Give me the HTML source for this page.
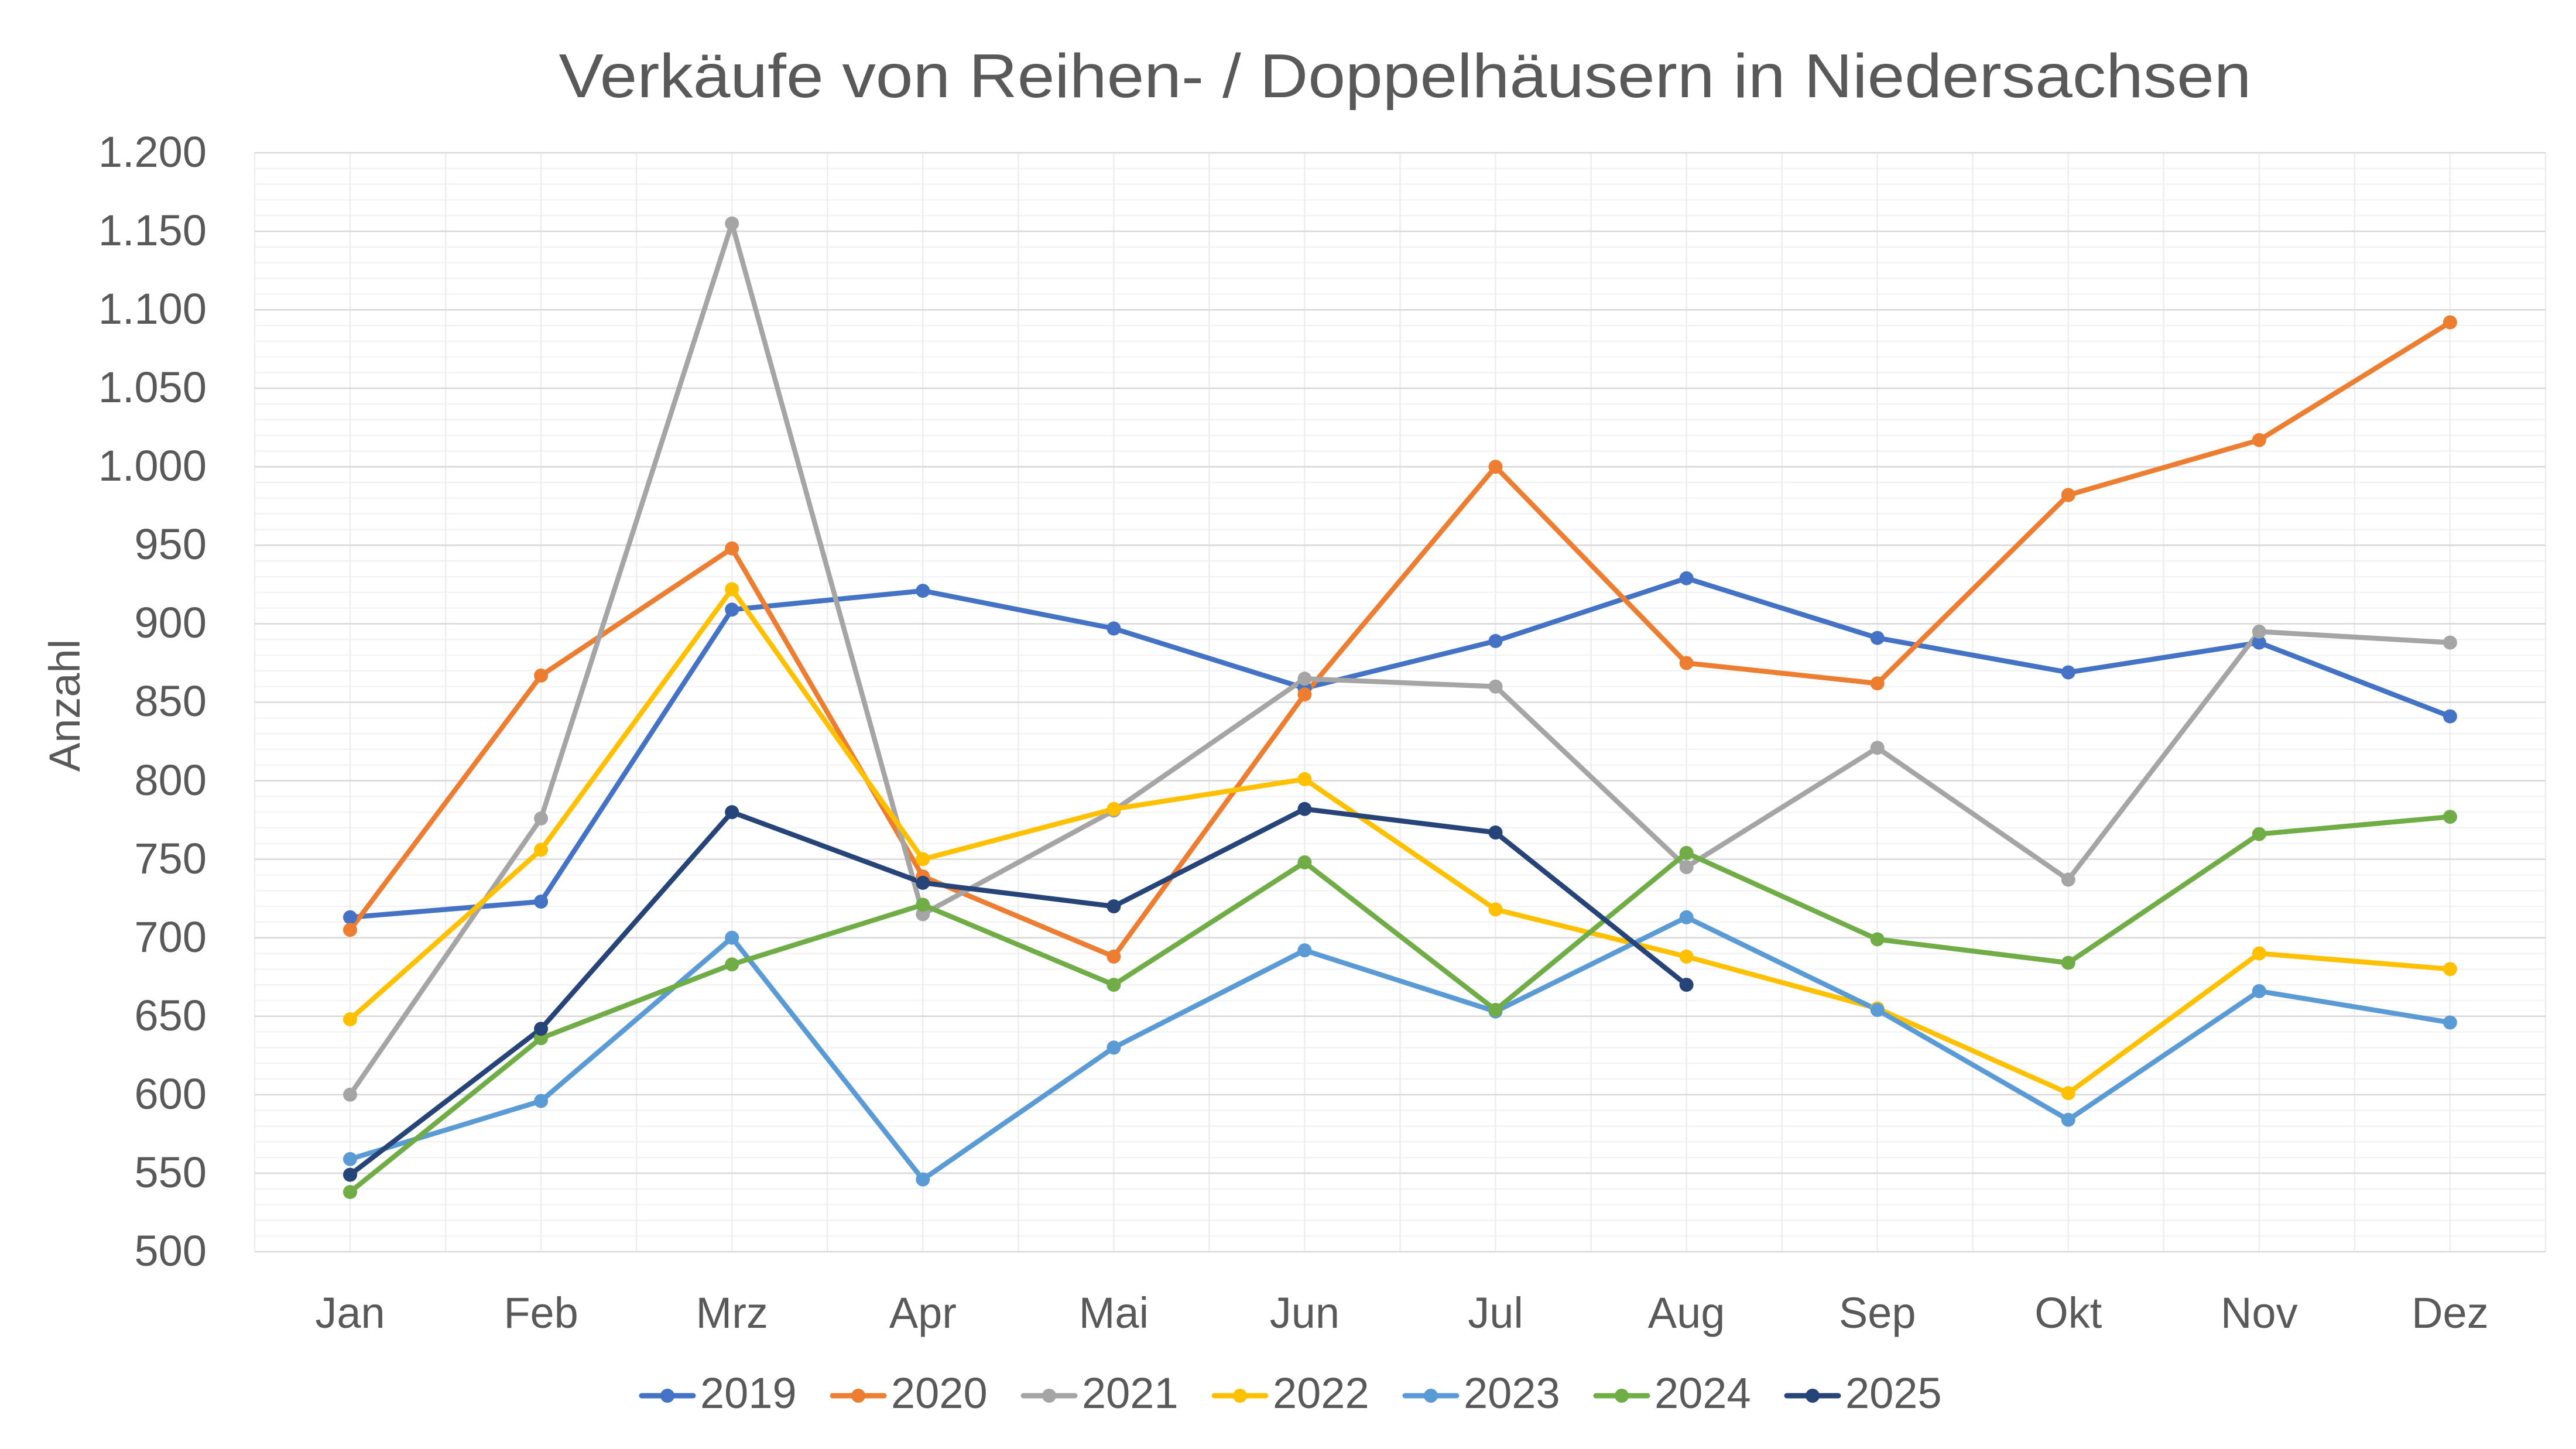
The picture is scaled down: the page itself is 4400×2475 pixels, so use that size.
<!DOCTYPE html>
<html><head><meta charset="utf-8"><style>
html,body{margin:0;padding:0;background:#fff;}
svg{display:block;}
text{font-family:"Liberation Sans",Arial,sans-serif;fill:#595959;}
</style></head><body>
<svg xmlns="http://www.w3.org/2000/svg" width="4400" height="2475" viewBox="0 0 4400 2475">
<rect width="4400" height="2475" fill="#fff"/>
<text x="2400" y="166" font-size="106" text-anchor="middle" textLength="2891" lengthAdjust="spacingAndGlyphs">Verkäufe von Reihen- / Doppelhäusern in Niedersachsen</text>
<!-- minor horizontal grid -->
<path stroke="#f2f2f2" stroke-width="2.2" fill="none" d="M435 287.81H4348M435 314.63H4348M435 341.44H4348M435 368.26H4348M435 421.88H4348M435 448.7H4348M435 475.51H4348M435 502.33H4348M435 555.95H4348M435 582.77H4348M435 609.58H4348M435 636.4H4348M435 690.02H4348M435 716.84H4348M435 743.65H4348M435 770.47H4348M435 824.09H4348M435 850.91H4348M435 877.72H4348M435 904.54H4348M435 958.16H4348M435 984.98H4348M435 1011.79H4348M435 1038.61H4348M435 1092.23H4348M435 1119.05H4348M435 1145.86H4348M435 1172.68H4348M435 1226.3H4348M435 1253.12H4348M435 1279.93H4348M435 1306.75H4348M435 1360.37H4348M435 1387.19H4348M435 1414H4348M435 1440.82H4348M435 1494.44H4348M435 1521.26H4348M435 1548.07H4348M435 1574.89H4348M435 1628.51H4348M435 1655.33H4348M435 1682.14H4348M435 1708.96H4348M435 1762.58H4348M435 1789.4H4348M435 1816.21H4348M435 1843.03H4348M435 1896.65H4348M435 1923.47H4348M435 1950.28H4348M435 1977.1H4348M435 2030.72H4348M435 2057.54H4348M435 2084.35H4348M435 2111.17H4348"/>
<!-- vertical grid -->
<path stroke="#ededed" stroke-width="2.4" fill="none" d="M435 261V2138M598 261V2138M761.1 261V2138M924.1 261V2138M1087.2 261V2138M1250.2 261V2138M1413.2 261V2138M1576.3 261V2138M1739.3 261V2138M1902.4 261V2138M2065.4 261V2138M2228.4 261V2138M2391.5 261V2138M2554.5 261V2138M2717.6 261V2138M2880.6 261V2138M3043.6 261V2138M3206.7 261V2138M3369.7 261V2138M3532.8 261V2138M3695.8 261V2138M3858.8 261V2138M4021.9 261V2138M4184.9 261V2138M4348 261V2138"/>
<!-- major horizontal grid -->
<path stroke="#d9d9d9" stroke-width="2.6" fill="none" d="M435 261H4348M435 395.07H4348M435 529.14H4348M435 663.21H4348M435 797.28H4348M435 931.35H4348M435 1065.42H4348M435 1199.49H4348M435 1333.56H4348M435 1467.63H4348M435 1601.7H4348M435 1735.77H4348M435 1869.84H4348M435 2003.91H4348M435 2138H4348"/>

<!-- y tick labels -->
<g font-size="74" text-anchor="end">
<text x="353" y="285">1.200</text>
<text x="353" y="419">1.150</text>
<text x="353" y="553">1.100</text>
<text x="353" y="687">1.050</text>
<text x="353" y="821">1.000</text>
<text x="353" y="955">950</text>
<text x="353" y="1089">900</text>
<text x="353" y="1223">850</text>
<text x="353" y="1358">800</text>
<text x="353" y="1492">750</text>
<text x="353" y="1626">700</text>
<text x="353" y="1760">650</text>
<text x="353" y="1894">600</text>
<text x="353" y="2028">550</text>
<text x="353" y="2162">500</text>
</g>
<text font-size="74" text-anchor="middle" transform="translate(136 1205) rotate(-90)">Anzahl</text>

<!-- x labels -->
<g font-size="74" text-anchor="middle">
<text x="598" y="2268">Jan</text>
<text x="924.1" y="2268">Feb</text>
<text x="1250.2" y="2268">Mrz</text>
<text x="1576.3" y="2268">Apr</text>
<text x="1902.4" y="2268">Mai</text>
<text x="2228.4" y="2268">Jun</text>
<text x="2554.5" y="2268">Jul</text>
<text x="2880.6" y="2268">Aug</text>
<text x="3206.7" y="2268">Sep</text>
<text x="3532.8" y="2268">Okt</text>
<text x="3858.8" y="2268">Nov</text>
<text x="4184.9" y="2268">Dez</text>
</g>

<!-- series -->
<g fill="none" stroke-width="8.5" stroke-linejoin="round" stroke-linecap="round">
<polyline stroke="#4472C4" points="598,1566.8 924.1,1540 1250.2,1041.3 1576.3,1009.1 1902.4,1073.5 2228.4,1175.4 2554.5,1094.9 2880.6,987.7 3206.7,1089.6 3532.8,1148.5 3858.8,1097.6 4184.9,1223.6"/>
<polyline stroke="#ED7D31" points="598,1588.3 924.1,1153.9 1250.2,936.7 1576.3,1497.1 1902.4,1633.9 2228.4,1186.1 2554.5,797.3 2880.6,1132.5 3206.7,1167.3 3532.8,845.5 3858.8,751.7 4184.9,550.6"/>
<polyline stroke="#A5A5A5" points="598,1869.8 924.1,1397.9 1250.2,381.7 1576.3,1561.5 1902.4,1384.5 2228.4,1159.3 2554.5,1172.7 2880.6,1481 3206.7,1277.3 3532.8,1502.5 3858.8,1078.8 4184.9,1097.6"/>
<polyline stroke="#FFC000" points="598,1741.1 924.1,1451.5 1250.2,1006.4 1576.3,1467.6 1902.4,1381.8 2228.4,1330.9 2554.5,1553.4 2880.6,1633.9 3206.7,1722.4 3532.8,1867.2 3858.8,1628.5 4184.9,1655.3"/>
<polyline stroke="#5B9BD5" points="598,1979.8 924.1,1880.6 1250.2,1601.7 1576.3,2014.6 1902.4,1789.4 2228.4,1623.2 2554.5,1727.7 2880.6,1566.8 3206.7,1725 3532.8,1912.7 3858.8,1692.9 4184.9,1746.5"/>
<polyline stroke="#70AD47" points="598,2036.1 924.1,1773.3 1250.2,1647.3 1576.3,1545.4 1902.4,1682.1 2228.4,1473 2554.5,1725 2880.6,1456.9 3206.7,1604.4 3532.8,1644.6 3858.8,1424.7 4184.9,1395.2"/>
<polyline stroke="#264478" points="598,2006.6 924.1,1757.2 1250.2,1387.2 1576.3,1507.9 1902.4,1548.1 2228.4,1381.8 2554.5,1422 2880.6,1682.1"/>
</g>
<g fill="#4472C4">
<circle cx="598" cy="1566.8" r="12"/><circle cx="924.1" cy="1540" r="12"/><circle cx="1250.2" cy="1041.3" r="12"/><circle cx="1576.3" cy="1009.1" r="12"/><circle cx="1902.4" cy="1073.5" r="12"/><circle cx="2228.4" cy="1175.4" r="12"/><circle cx="2554.5" cy="1094.9" r="12"/><circle cx="2880.6" cy="987.7" r="12"/><circle cx="3206.7" cy="1089.6" r="12"/><circle cx="3532.8" cy="1148.5" r="12"/><circle cx="3858.8" cy="1097.6" r="12"/><circle cx="4184.9" cy="1223.6" r="12"/>
</g>
<g fill="#ED7D31">
<circle cx="598" cy="1588.3" r="12"/><circle cx="924.1" cy="1153.9" r="12"/><circle cx="1250.2" cy="936.7" r="12"/><circle cx="1576.3" cy="1497.1" r="12"/><circle cx="1902.4" cy="1633.9" r="12"/><circle cx="2228.4" cy="1186.1" r="12"/><circle cx="2554.5" cy="797.3" r="12"/><circle cx="2880.6" cy="1132.5" r="12"/><circle cx="3206.7" cy="1167.3" r="12"/><circle cx="3532.8" cy="845.5" r="12"/><circle cx="3858.8" cy="751.7" r="12"/><circle cx="4184.9" cy="550.6" r="12"/>
</g>
<g fill="#A5A5A5">
<circle cx="598" cy="1869.8" r="12"/><circle cx="924.1" cy="1397.9" r="12"/><circle cx="1250.2" cy="381.7" r="12"/><circle cx="1576.3" cy="1561.5" r="12"/><circle cx="1902.4" cy="1384.5" r="12"/><circle cx="2228.4" cy="1159.3" r="12"/><circle cx="2554.5" cy="1172.7" r="12"/><circle cx="2880.6" cy="1481" r="12"/><circle cx="3206.7" cy="1277.3" r="12"/><circle cx="3532.8" cy="1502.5" r="12"/><circle cx="3858.8" cy="1078.8" r="12"/><circle cx="4184.9" cy="1097.6" r="12"/>
</g>
<g fill="#FFC000">
<circle cx="598" cy="1741.1" r="12"/><circle cx="924.1" cy="1451.5" r="12"/><circle cx="1250.2" cy="1006.4" r="12"/><circle cx="1576.3" cy="1467.6" r="12"/><circle cx="1902.4" cy="1381.8" r="12"/><circle cx="2228.4" cy="1330.9" r="12"/><circle cx="2554.5" cy="1553.4" r="12"/><circle cx="2880.6" cy="1633.9" r="12"/><circle cx="3206.7" cy="1722.4" r="12"/><circle cx="3532.8" cy="1867.2" r="12"/><circle cx="3858.8" cy="1628.5" r="12"/><circle cx="4184.9" cy="1655.3" r="12"/>
</g>
<g fill="#5B9BD5">
<circle cx="598" cy="1979.8" r="12"/><circle cx="924.1" cy="1880.6" r="12"/><circle cx="1250.2" cy="1601.7" r="12"/><circle cx="1576.3" cy="2014.6" r="12"/><circle cx="1902.4" cy="1789.4" r="12"/><circle cx="2228.4" cy="1623.2" r="12"/><circle cx="2554.5" cy="1727.7" r="12"/><circle cx="2880.6" cy="1566.8" r="12"/><circle cx="3206.7" cy="1725" r="12"/><circle cx="3532.8" cy="1912.7" r="12"/><circle cx="3858.8" cy="1692.9" r="12"/><circle cx="4184.9" cy="1746.5" r="12"/>
</g>
<g fill="#70AD47">
<circle cx="598" cy="2036.1" r="12"/><circle cx="924.1" cy="1773.3" r="12"/><circle cx="1250.2" cy="1647.3" r="12"/><circle cx="1576.3" cy="1545.4" r="12"/><circle cx="1902.4" cy="1682.1" r="12"/><circle cx="2228.4" cy="1473" r="12"/><circle cx="2554.5" cy="1725" r="12"/><circle cx="2880.6" cy="1456.9" r="12"/><circle cx="3206.7" cy="1604.4" r="12"/><circle cx="3532.8" cy="1644.6" r="12"/><circle cx="3858.8" cy="1424.7" r="12"/><circle cx="4184.9" cy="1395.2" r="12"/>
</g>
<g fill="#264478">
<circle cx="598" cy="2006.6" r="12"/><circle cx="924.1" cy="1757.2" r="12"/><circle cx="1250.2" cy="1387.2" r="12"/><circle cx="1576.3" cy="1507.9" r="12"/><circle cx="1902.4" cy="1548.1" r="12"/><circle cx="2228.4" cy="1381.8" r="12"/><circle cx="2554.5" cy="1422" r="12"/><circle cx="2880.6" cy="1682.1" r="12"/>
</g>

<!-- legend -->
<g stroke-width="9" stroke-linecap="round">
<line x1="1096" y1="2384" x2="1184" y2="2384" stroke="#4472C4"/>
<line x1="1422" y1="2384" x2="1510" y2="2384" stroke="#ED7D31"/>
<line x1="1748" y1="2384" x2="1836" y2="2384" stroke="#A5A5A5"/>
<line x1="2074" y1="2384" x2="2162" y2="2384" stroke="#FFC000"/>
<line x1="2400" y1="2384" x2="2488" y2="2384" stroke="#5B9BD5"/>
<line x1="2726" y1="2384" x2="2814" y2="2384" stroke="#70AD47"/>
<line x1="3052" y1="2384" x2="3140" y2="2384" stroke="#264478"/>
</g>
<circle cx="1140" cy="2384" r="12" fill="#4472C4"/>
<circle cx="1466" cy="2384" r="12" fill="#ED7D31"/>
<circle cx="1792" cy="2384" r="12" fill="#A5A5A5"/>
<circle cx="2118" cy="2384" r="12" fill="#FFC000"/>
<circle cx="2444" cy="2384" r="12" fill="#5B9BD5"/>
<circle cx="2770" cy="2384" r="12" fill="#70AD47"/>
<circle cx="3096" cy="2384" r="12" fill="#264478"/>
<g font-size="74">
<text x="1196" y="2405">2019</text>
<text x="1522" y="2405">2020</text>
<text x="1848" y="2405">2021</text>
<text x="2174" y="2405">2022</text>
<text x="2500" y="2405">2023</text>
<text x="2826" y="2405">2024</text>
<text x="3152" y="2405">2025</text>
</g>
</svg>
</body></html>
